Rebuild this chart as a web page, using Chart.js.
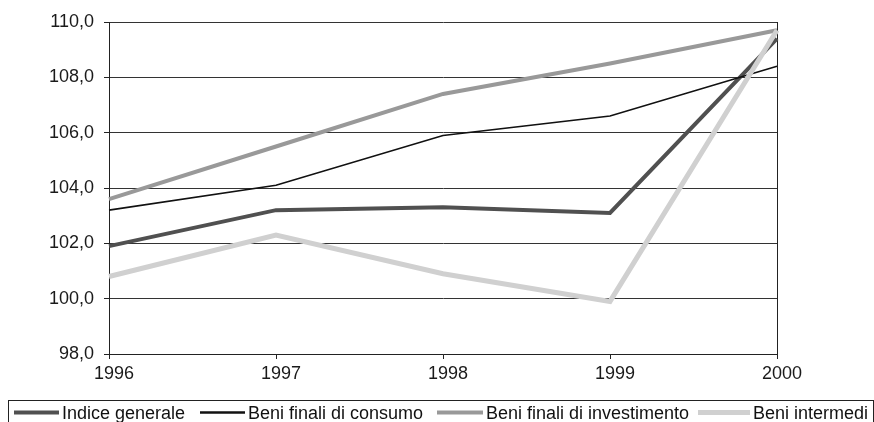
<!DOCTYPE html>
<html>
<head>
<meta charset="utf-8">
<script src="https://cdn.jsdelivr.net/npm/chart.js@4"></script>
<style>
  html, body { margin: 0; padding: 0; background: #fff; }
  #wrap { width: 874px; height: 422px; position: relative; }
</style>
</head>
<body>
<div id="wrap"><canvas id="c" width="874" height="422"></canvas></div>
<script>
const categories = ['1996', '1997', '1998', '1999', '2000'];
const indiceGenerale = [101.9, 103.2, 103.3, 103.1, 109.4];
const beniConsumo = [103.2, 104.1, 105.9, 106.6, 108.4];
const beniInvestimento = [103.6, 105.5, 107.4, 108.5, 109.7];
const beniIntermedi = [100.8, 102.3, 100.9, 99.9, 109.7];
const seriesLabels = ['Indice generale', 'Beni finali di consumo', 'Beni finali di investimento', 'Beni intermedi'];
const yMin = 98, yMax = 110, yStep = 2;

const FONT = 'Liberation Sans, Arial, Helvetica, sans-serif';

const legendPlugin = {
  id: 'boxLegend',
  afterDraw(chart) {
    const ctx = chart.ctx;
    const starts = [14, 200, 437, 698];
    const sampleLen = [45, 45, 46, 52];
    const top = 400;
    ctx.save();
    ctx.strokeStyle = '#222';
    ctx.lineWidth = 1;
    ctx.strokeRect(8.5, top + 0.5, 865, 40);
    ctx.font = '18px ' + FONT;
    ctx.textBaseline = 'middle';
    ctx.fillStyle = '#111';
    chart.data.datasets.forEach((ds, i) => {
      const x0 = starts[i];
      const y = 412.5;
      ctx.beginPath();
      ctx.strokeStyle = ds.borderColor;
      ctx.lineWidth = Math.max(ds.borderWidth, 2.5);
      ctx.moveTo(x0, y);
      ctx.lineTo(x0 + sampleLen[i], y);
      ctx.stroke();
      ctx.fillText(ds.label, x0 + sampleLen[i] + 3, 414);
    });
    ctx.restore();
  }
};

new Chart(document.getElementById('c'), {
  type: 'line',
  data: {
    labels: categories,
    datasets: [
      { label: seriesLabels[0], data: indiceGenerale, borderColor: '#505050', borderWidth: 4, order: 4 },
      { label: seriesLabels[1], data: beniConsumo, borderColor: '#111111', borderWidth: 1.6, order: 3 },
      { label: seriesLabels[2], data: beniInvestimento, borderColor: '#999999', borderWidth: 4, order: 2 },
      { label: seriesLabels[3], data: beniIntermedi, borderColor: '#d0d0d0', borderWidth: 5, order: 1 }
    ]
  },
  options: {
    responsive: false,
    animation: false,
    layout: { padding: { top: 22, right: 97, bottom: 0, left: 0 } },
    elements: { point: { radius: 0, hoverRadius: 0 }, line: { tension: 0, borderJoinStyle: 'miter', borderCapStyle: 'butt' } },
    plugins: { legend: { display: false }, tooltip: { enabled: false } },
    scales: {
      x: {
        type: 'category',
        offset: false,
        afterFit(s) { s.height = 68; },
        border: { display: true, color: '#222', width: 1 },
        grid: {
          drawOnChartArea: true,
          color: (c) => (c.index === categories.length - 1 ? '#222' : 'rgba(0,0,0,0)'),
          tickColor: '#222',
          tickLength: 5
        },
        ticks: { font: { family: FONT, size: 18 }, color: '#1a1a1a', padding: 4, labelOffset: 5, maxRotation: 0, autoSkip: false }
      },
      y: {
        min: yMin,
        max: yMax,
        afterFit(s) { s.width = 109; },
        border: { display: true, color: '#222', width: 1 },
        grid: { color: '#333', tickColor: '#222', tickLength: 5 },
        ticks: {
          stepSize: yStep,
          font: { family: FONT, size: 18 },
          color: '#1a1a1a',
          padding: 10,
          callback: (v) => v.toFixed(1).replace('.', ',')
        }
      }
    }
  },
  plugins: [legendPlugin]
});
</script>
</body>
</html>
